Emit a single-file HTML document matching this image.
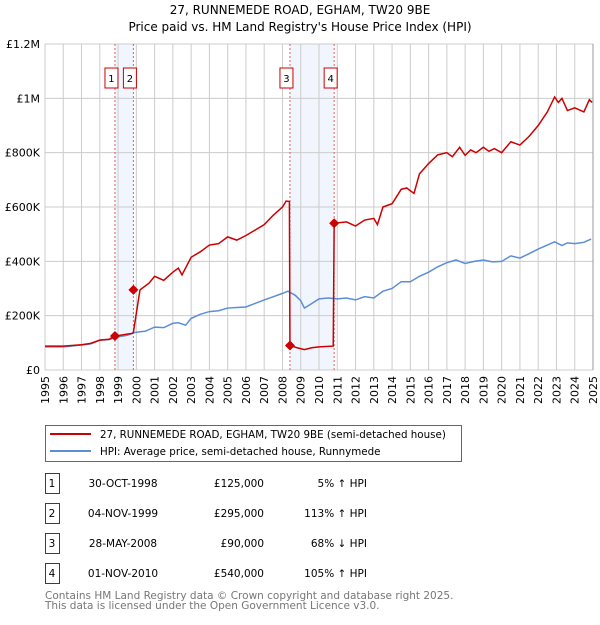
<!DOCTYPE html>
<html><head><meta charset="utf-8"><style>
body{margin:0;background:#fff;}
svg text{font-family:"DejaVu Sans","Liberation Sans",sans-serif;}
</style></head><body>
<svg id="chart" width="600" height="620" xmlns="http://www.w3.org/2000/svg">
<text x="300" y="14" text-anchor="middle" font-size="12" fill="#000">27, RUNNEMEDE ROAD, EGHAM, TW20 9BE</text>
<text x="300" y="31" text-anchor="middle" font-size="12" fill="#000">Price paid vs. HM Land Registry's House Price Index (HPI)</text>
<g id="plot"></g>
<g id="legend">
<rect x="45.5" y="425.5" width="416" height="36" fill="#fff" stroke="#666"/>
<line x1="50" y1="434" x2="91" y2="434" stroke="#cc0000" stroke-width="2"/>
<text x="100" y="438" font-size="10.3">27, RUNNEMEDE ROAD, EGHAM, TW20 9BE (semi-detached house)</text>
<line x1="50" y1="451" x2="91" y2="451" stroke="#5b8ed6" stroke-width="2"/>
<text x="100" y="455" font-size="10.3">HPI: Average price, semi-detached house, Runnymede</text>
</g>
<g id="table"></g>
<text x="45" y="599" font-size="10.5" fill="#777">Contains HM Land Registry data © Crown copyright and database right 2025.</text>
<text x="45" y="609" font-size="10.5" fill="#777">This data is licensed under the Open Government Licence v3.0.</text>
</svg>
<script>
const hpiYears=[1995,1996,1997,1997.5,1998,1998.5,1999,1999.5,1999.9,2000.5,2001,2001.5,2002,2002.3,2002.7,2003,2003.5,2004,2004.5,2005,2005.5,2006,2006.5,2007,2007.5,2008,2008.3,2008.7,2009,2009.2,2009.5,2010,2010.5,2011,2011.5,2012,2012.5,2013,2013.5,2014,2014.5,2015,2015.5,2016,2016.5,2017,2017.5,2018,2018.5,2019,2019.5,2020,2020.5,2021,2021.5,2022,2022.5,2022.9,2023.3,2023.6,2024,2024.5,2024.9];
const hpiValues=[85,85,92,96,110,112,122,128,138,143,158,156,172,174,165,190,205,215,218,228,230,232,245,258,270,282,290,275,255,228,240,262,265,262,265,258,270,265,290,300,325,325,345,360,380,395,405,392,400,405,398,400,420,412,428,445,460,472,458,468,465,470,482];
const redYears=[1995,1996,1997,1997.5,1998,1998.5,1998.83,1999.3,1999.8,1999.84,2000.2,2000.7,2001,2001.5,2002,2002.3,2002.5,2003,2003.5,2004,2004.5,2005,2005.5,2006,2006.5,2007,2007.5,2008,2008.2,2008.38,2008.41,2008.8,2009.2,2009.6,2010,2010.78,2010.83,2011.5,2012,2012.5,2013,2013.2,2013.5,2014,2014.5,2014.8,2015.2,2015.5,2016,2016.5,2017,2017.3,2017.7,2018,2018.3,2018.6,2019,2019.3,2019.6,2020,2020.5,2021,2021.5,2022,2022.5,2022.9,2023.1,2023.3,2023.6,2024,2024.5,2024.8,2024.95];
const redValues=[88,88,93,98,110,113,125,130,135,140,295,320,345,330,360,375,350,415,435,460,465,490,478,495,515,535,570,600,622,620,90,82,75,82,85,88,540,545,530,552,558,535,600,612,665,670,650,722,760,792,800,785,820,790,810,800,820,805,815,800,840,828,860,900,950,1005,985,1000,955,965,950,995,985];
const saleLabels=["1","2","3","4"];
const saleYears=[1998.83,1999.84,2008.41,2010.83];
const salePrices=[125,295,90,540];
const saleDates=["30-OCT-1998","04-NOV-1999","28-MAY-2008","01-NOV-2010"];
const salePriceText=["£125,000","£295,000","£90,000","£540,000"];
const saleHpiText=["5% ↑ HPI","113% ↑ HPI","68% ↓ HPI","105% ↑ HPI"];
const yTicks=[0,200,400,600,800,1000,1200];
const yTickLabels=["£0","£200K","£400K","£600K","£800K","£1M","£1.2M"];
const xTicks=[1995,1996,1997,1998,1999,2000,2001,2002,2003,2004,2005,2006,2007,2008,2009,2010,2011,2012,2013,2014,2015,2016,2017,2018,2019,2020,2021,2022,2023,2024,2025];

const L=45,R=593,T=44,B=370;
const xs=y=>L+(y-1995)/30*(R-L);
const ys=v=>B-v/1200*(B-T);
const NS="http://www.w3.org/2000/svg";
function mk(tag,attrs,parent){const e=document.createElementNS(NS,tag);for(const k in attrs)e.setAttribute(k,attrs[k]);parent.appendChild(e);return e;}
const plot=document.getElementById('plot');
for(const [a,b] of [[0,1],[2,3]]){
 const r=mk('rect',{x:xs(saleYears[a]),y:T,width:xs(saleYears[b])-xs(saleYears[a]),height:B-T,fill:'#eef3fc',opacity:0.8},plot);
 
 
}
xTicks.forEach(t=>{
 const l=mk('line',{x1:xs(t),x2:xs(t),y1:T,y2:B,stroke:'#ccc','stroke-width':1},plot);
 
 
 const tx=mk('text',{x:0,y:0,'font-size':11,'text-anchor':'end',transform:`translate(${xs(t)+4},${B+6}) rotate(-90)`},plot);
 tx.textContent=t;
 
 
});
yTicks.forEach((t,i)=>{
 const l=mk('line',{x1:L,x2:R,y1:ys(t),y2:ys(t),stroke:'#ccc','stroke-width':1},plot);
 
 
 const tx=mk('text',{x:40,y:ys(t)+4,'font-size':11,'text-anchor':'end'},plot);
 tx.textContent=yTickLabels[i];
 
 
});
saleYears.forEach((y,i)=>{
 const l=mk('line',{x1:xs(y),x2:xs(y),y1:T,y2:B,stroke:'#e06060','stroke-width':1,'stroke-dasharray':'2,2'},plot);
 
 
 const cx=xs(y)-3.5;
 const r=mk('rect',{x:cx-6.5,y:68,width:13,height:20,fill:'#fff',stroke:'#cc0000','stroke-width':1},plot);
 
 
 const t=mk('text',{x:cx,y:82,'font-size':10,'text-anchor':'middle'},plot);
 t.textContent=saleLabels[i];
 
 
});
mk('line',{x1:R,x2:R,y1:T,y2:B,stroke:'#999','stroke-width':1},plot);
const hp=mk('polyline',{points:hpiYears.map((y,i)=>xs(y)+','+ys(hpiValues[i])).join(' '),fill:'none',stroke:'#5b8ed6','stroke-width':1.5},plot);


const rp=mk('polyline',{points:redYears.map((y,i)=>xs(y)+','+ys(redValues[i])).join(' '),fill:'none',stroke:'#cc0000','stroke-width':1.5},plot);


saleYears.forEach((y,i)=>{
 const x=xs(y),v=ys(salePrices[i]);
 const d=mk('polygon',{points:`${x},${v-5} ${x+5},${v} ${x},${v+5} ${x-5},${v}`,fill:'#cc0000'},plot);
 
 
});
const tb=document.getElementById('table');
saleLabels.forEach((s,i)=>{
 const cy=483+i*30;
 const r=mk('rect',{x:45.5,y:cy-9.5,width:14,height:20,fill:'#fff',stroke:'#cc0000'},tb);
 
 
 const cells=[[52,'middle',s],[123,'middle',saleDates[i]],[264,'end',salePriceText[i]],[367,'end',saleHpiText[i]]];
 cells.forEach(([x,a,txt])=>{
  const t=mk('text',{x:x,y:cy+4,'font-size':10.5,'text-anchor':a},tb);
  t.textContent=txt;
  
  
 });
});
</script>
</body></html>
